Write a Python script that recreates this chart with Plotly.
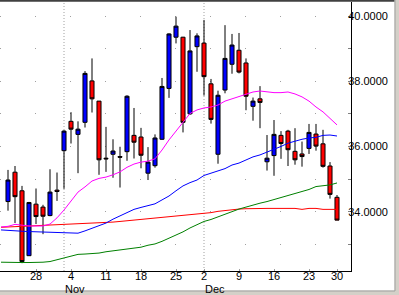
import datetime as dt
import plotly.graph_objects as go

# ---------------- data ----------------
dates = [
    "2002-10-21", "2002-10-22", "2002-10-23", "2002-10-24", "2002-10-25",
    "2002-10-28", "2002-10-29", "2002-10-30", "2002-10-31", "2002-11-01",
    "2002-11-04", "2002-11-05", "2002-11-06", "2002-11-07", "2002-11-08",
    "2002-11-11", "2002-11-12", "2002-11-13", "2002-11-14", "2002-11-15",
    "2002-11-18", "2002-11-19", "2002-11-20", "2002-11-21", "2002-11-22",
    "2002-11-25", "2002-11-26", "2002-11-27", "2002-11-29",
    "2002-12-02", "2002-12-03", "2002-12-04", "2002-12-05", "2002-12-06",
    "2002-12-09", "2002-12-10", "2002-12-11", "2002-12-12", "2002-12-13",
    "2002-12-16", "2002-12-17", "2002-12-18", "2002-12-19", "2002-12-20",
    "2002-12-23", "2002-12-24", "2002-12-26", "2002-12-27", "2002-12-30",
]

# candles start on the 2nd trading day (Oct 22)
open_ = [34.31, 35.21, 34.64, 32.65, 34.23, 34.14, 33.88, 34.66, 35.87,
         36.77, 36.37, 36.74, 38.01, 37.39, 35.64, 35.76, 35.69, 35.84, 36.34,
         36.29, 35.18, 35.41, 36.22, 37.78, 39.35, 39.35, 37.00, 39.06,
         39.17, 37.92, 35.76, 37.73, 38.52, 38.95, 38.56, 37.23, 37.46, 35.53,
         35.72, 36.34, 36.47, 35.85, 35.77, 35.94, 36.38, 36.08, 35.40, 34.44]
high = [35.28, 35.40, 34.79, 34.30, 34.71, 34.21, 35.30, 35.20, 36.50,
        37.05, 36.77, 38.31, 38.70, 37.39, 36.60, 36.22, 35.99, 37.57, 37.18,
        36.57, 35.98, 36.37, 38.10, 39.47, 39.98, 39.36, 39.57, 39.47,
        39.88, 38.07, 37.71, 39.72, 39.45, 39.48, 38.70, 37.50, 37.85, 36.35,
        36.81, 36.47, 36.51, 36.56, 36.15, 36.69, 36.69, 36.51, 35.52, 34.51]
low = [34.03, 33.65, 32.42, 32.64, 33.62, 33.31, 33.86, 34.33, 34.70,
       36.09, 35.18, 36.58, 37.04, 35.13, 35.22, 35.04, 34.74, 35.56, 35.63,
       35.33, 34.97, 35.35, 36.20, 37.49, 39.16, 36.43, 36.97, 38.29,
       37.56, 36.70, 35.47, 37.63, 38.23, 38.24, 37.11, 36.79, 36.56, 35.26,
       35.10, 35.62, 35.40, 35.44, 35.38, 35.77, 35.87, 35.35, 34.40, 33.74]
close = [34.97, 34.46, 32.47, 34.28, 33.85, 33.86, 34.60, 34.62, 36.47,
         36.53, 36.53, 38.24, 37.46, 35.59, 35.62, 35.86, 35.67, 37.54, 36.13,
         35.73, 35.52, 36.26, 37.84, 39.45, 39.69, 36.74, 38.93, 39.39,
         38.14, 36.83, 37.57, 38.70, 39.11, 38.28, 37.54, 37.39, 37.35, 35.64,
         36.37, 36.09, 35.90, 35.59, 35.69, 36.43, 36.01, 35.39, 34.53, 33.74]

# moving averages, one value per trading day (from Oct 21)
ma_short = [33.53, 33.55, 33.61, 33.58, 33.56, 33.56, 33.56, 33.62, 33.81, 34.05,
            34.33, 34.60, 34.76, 34.94, 35.02, 35.06, 35.13, 35.22, 35.36, 35.46,
            35.52, 35.55, 35.62, 35.89, 36.20, 36.47, 36.75, 37.01, 37.12,
            37.18, 37.21, 37.27, 37.39, 37.46, 37.52, 37.59, 37.67, 37.70, 37.67,
            37.65, 37.65, 37.67, 37.61, 37.52, 37.39, 37.21, 37.06, 36.87, 36.66]
ma_mid = [33.44, 33.42, 33.41, 33.40, 33.39, 33.38, 33.37, 33.36, 33.35, 33.34,
          33.34, 33.34, 33.41, 33.49, 33.56, 33.65, 33.77, 33.87, 33.97, 34.07,
          34.13, 34.18, 34.24, 34.36, 34.48, 34.64, 34.79, 34.89, 34.97,
          35.11, 35.17, 35.25, 35.32, 35.43, 35.49, 35.59, 35.68, 35.74, 35.82,
          35.91, 36.00, 36.10, 36.17, 36.22, 36.26, 36.28, 36.34, 36.35, 36.32]
ma_long = [32.45, 32.44, 32.44, 32.44, 32.44, 32.44, 32.45, 32.47, 32.52, 32.57,
           32.64, 32.69, 32.70, 32.71, 32.73, 32.77, 32.80, 32.83, 32.86, 32.89,
           32.91, 32.97, 33.01, 33.09, 33.18, 33.29, 33.38, 33.50, 33.59,
           33.70, 33.76, 33.84, 33.93, 34.01, 34.08, 34.14, 34.21, 34.26, 34.31,
           34.37, 34.44, 34.50, 34.56, 34.62, 34.68, 34.77, 34.80, 34.82, 34.88]
ma_vlong = [33.52, 33.53, 33.54, 33.55, 33.55, 33.56, 33.57, 33.58, 33.58, 33.59,
            33.61, 33.62, 33.63, 33.64, 33.65, 33.66, 33.68, 33.70, 33.72, 33.73,
            33.75, 33.77, 33.79, 33.81, 33.83, 33.85, 33.87, 33.89, 33.91,
            33.94, 33.97, 34.01, 34.04, 34.06, 34.08, 34.09, 34.10, 34.10, 34.10,
            34.10, 34.10, 34.10, 34.10, 34.07, 34.10, 34.10, 34.07, 34.07, 34.07]

y_levels = [33, 34, 35, 36, 37, 38, 39, 40]
y_labels = ["" if v % 2 else f"{v:.4f}" for v in y_levels]

# ---------------- derived positions ----------------
dd = [dt.date.fromisoformat(s) for s in dates]
idx = list(range(len(dates)))
xc = idx[1:]
mondays = [i for i in idx if dd[i].weekday() == 0 and i > 0]
monday_text = [str(dd[i].day) for i in mondays]
month_starts = [i for i in idx if i > 0 and dd[i].month != dd[i - 1].month]
month_names = [dd[i].strftime("%b") for i in month_starts]

FONT = "Arial, Liberation Sans, sans-serif"
W, H = 399, 295
ML, MR, MT, MB = 0, 48, 2, 24
PW, PH = W - ML - MR, H - MT - MB


def px(x):
    return (x - ML) / PW


def py(y):
    return (H - MB - y) / PH


fig = go.Figure()
for vals, col in [(ma_vlong, "#ff0000"), (ma_long, "#008000"),
                  (ma_mid, "#0000ff"), (ma_short, "#ff00ff")]:
    fig.add_trace(go.Scatter(x=idx, y=vals, mode="lines",
                             line=dict(color=col, width=1),
                             showlegend=False, hoverinfo="skip"))

fig.add_trace(go.Candlestick(
    x=xc, open=open_, high=high, low=low, close=close,
    increasing=dict(line=dict(color="black", width=1), fillcolor="#0000ff"),
    decreasing=dict(line=dict(color="black", width=1), fillcolor="#ff0000"),
    whiskerwidth=0, showlegend=False))

shapes = []
for m in month_starts:
    shapes.append(dict(type="line", xref="x", yref="paper", x0=m, x1=m, y0=0, y1=1,
                       line=dict(color="#a0a0a0", width=1, dash="1px,2px"),
                       layer="below"))
# window frame
shapes.append(dict(type="line", xref="paper", yref="paper", x0=px(0), x1=px(395),
                   y0=py(0.75), y1=py(0.75), line=dict(color="#404040", width=2)))
shapes.append(dict(type="rect", xref="paper", yref="paper", x0=px(394.5), x1=px(400),
                   y0=py(296), y1=py(-1), fillcolor="#d4d0c8", line=dict(width=0)))
shapes.append(dict(type="rect", xref="paper", yref="paper", x0=px(-1), x1=px(400),
                   y0=py(296), y1=py(290.5), fillcolor="#d4d0c8", line=dict(width=0)))
shapes.append(dict(type="line", xref="paper", yref="paper", x0=px(395), x1=px(395),
                   y0=py(291), y1=py(0), line=dict(color="#a0a0a0", width=1)))
shapes.append(dict(type="line", xref="paper", yref="paper", x0=px(0), x1=px(395),
                   y0=py(291), y1=py(291), line=dict(color="#a0a0a0", width=1)))

annotations = []
for m, name in zip(month_starts, month_names):
    annotations.append(dict(x=m, y=py(288.5), xref="x", yref="paper", text=name,
                            xanchor="left", yanchor="middle", showarrow=False,
                            xshift=-1, font=dict(family=FONT, size=11, color="black")))

fig.update_layout(
    width=W, height=H,
    margin=dict(l=ML, r=MR, t=MT, b=MB),
    paper_bgcolor="white", plot_bgcolor="white",
    boxgap=0.2, boxgroupgap=0.28,
    shapes=shapes, annotations=annotations,
    font=dict(family=FONT, size=11, color="black"),
    xaxis=dict(range=[-1 / 7, 50], tickmode="array", tickvals=mondays,
               ticktext=monday_text, showgrid=False, zeroline=False,
               showline=True, linecolor="black", linewidth=1,
               ticks="inside", ticklen=2, tickcolor="#a0a0a0",
               ticklabelstandoff=-5,
               rangeslider=dict(visible=False),
               tickfont=dict(family=FONT, size=11, color="black")),
    yaxis=dict(side="right", range=[32.18, 40.43], tickmode="array",
               tickvals=y_levels, ticktext=y_labels, showgrid=True,
               gridcolor="#a0a0a0", griddash="1px,34px", gridwidth=1,
               zeroline=False, showline=True, linecolor="black", linewidth=1,
               ticks="inside", ticklen=3, tickcolor="#808080",
               ticklabelstandoff=-6,
               tickfont=dict(family=FONT, size=11, color="black")),
)

fig.write_html("out.html")
